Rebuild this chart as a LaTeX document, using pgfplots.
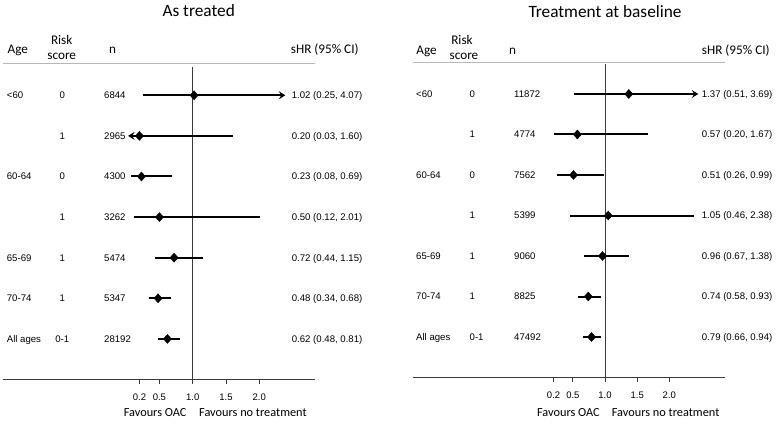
\documentclass[border=0pt]{standalone}
\usepackage{pgfplots}
\pgfplotsset{compat=1.18}
\usepackage{pgfplotstable}
\usetikzlibrary{arrows.meta}
\usepackage{fontspec}
\setmainfont{Liberation Sans}
\newfontfamily\calib{Carlito}
\definecolor{refline}{HTML}{3A3A3A}
\definecolor{hdrline}{HTML}{B8B8B8}

% row est lo hi  (row 7 = top)
\pgfplotstableread{
row est lo hi
7 1.02 0.25 4.07
6 0.20 0.03 1.60
5 0.23 0.08 0.69
4 0.50 0.12 2.01
3 0.72 0.44 1.15
2 0.48 0.34 0.68
1 0.62 0.48 0.81
}\treated
\pgfplotstableread{
row est lo hi
7 1.37 0.51 3.69
6 0.57 0.20 1.67
5 0.51 0.26 0.99
4 1.05 0.46 2.38
3 0.96 0.67 1.38
2 0.74 0.58 0.93
1 0.79 0.66 0.94
}\baseline

\pgfplotsset{forest/.style={
  anchor=south west, clip=false,
  axis x line=bottom, axis y line=none,
  axis line style={-, refline, line width=0.8bp},
  xtick={0.2,0.5,1,1.5,2},
  xticklabels={0.2,0.5,1.0,1.5,2.0},
  tick align=outside, major tick length=5bp,
  tick style={refline, line width=0.8bp},
  /pgf/number format/assume math mode=true,
  xticklabel style={font=\fontsize{9.5bp}{11bp}\selectfont, inner sep=0pt, anchor=north, yshift=-9.5bp},
  ci/.style={black, line width=2bp},
  dm/.style={only marks, mark=diamond*, mark size=4.5bp, mark options={xscale=1.2, fill=black, draw=black}},
}}
\tikzset{
  v/.style={font=\fontsize{9.6bp}{11bp}\selectfont, inner sep=0pt},
  h/.style={font=\calib\fontsize{13.2bp}{15bp}\selectfont, inner sep=0pt},
  t/.style={font=\calib\fontsize{17.3bp}{19bp}\selectfont, inner sep=0pt},
  f/.style={font=\calib\fontsize{12.3bp}{14bp}\selectfont, inner sep=0pt},
  arr/.style={-{Stealth[length=6.5bp,width=8bp,inset=2.5bp]}},
}

\begin{document}
\begin{tikzpicture}[x=1bp,y=1bp]
\useasboundingbox (0,0) rectangle (780,421);

% ---------------- Left panel: As treated ----------------
\begin{axis}[forest, at={(2.7bp,42bp)}, x=66.6bp, y=40.6bp,
  xmin=-1.853, xmax=2.836, ymin=0.012, ymax=7.788]
  \draw[hdrline, line width=0.9bp] (axis cs:-1.853,7.788) -- (axis cs:2.836,7.788);
  \addplot[refline, line width=0.9bp] coordinates {(1,0.012) (1,7.70)};
  \addplot[ci, arr] coordinates {(0.25,7) (2.39,7)};
  \addplot[ci, arr] coordinates {(1.60,6) (0.03,6)};
  \addplot[ci] coordinates {(0.08,5) (0.69,5)};
  \addplot[ci] coordinates {(0.12,4) (2.01,4)};
  \addplot[ci] coordinates {(0.44,3) (1.15,3)};
  \addplot[ci] coordinates {(0.34,2) (0.68,2)};
  \addplot[ci] coordinates {(0.48,1) (0.81,1)};
  \addplot[dm] table[x=est, y=row] {\treated};
\end{axis}

% ---------------- Right panel: Treatment at baseline ----------------
\begin{axis}[forest, at={(412.7bp,43.7bp)}, x=64.3bp, y=40.5bp,
  xmin=-1.991, xmax=2.866, ymin=0.005, ymax=7.783]
  \draw[hdrline, line width=0.9bp] (axis cs:-1.991,7.783) -- (axis cs:2.866,7.783);
  \addplot[refline, line width=0.9bp] coordinates {(1,0.005) (1,7.74)};
  \addplot[ci, arr] coordinates {(0.51,7) (2.45,7)};
  \addplot[ci] coordinates {(0.20,6) (1.67,6)};
  \addplot[ci] coordinates {(0.26,5) (0.99,5)};
  \addplot[ci] coordinates {(0.46,4) (2.38,4)};
  \addplot[ci] coordinates {(0.67,3) (1.38,3)};
  \addplot[ci] coordinates {(0.58,2) (0.93,2)};
  \addplot[ci] coordinates {(0.66,1) (0.94,1)};
  \addplot[dm] table[x=est, y=row] {\baseline};
\end{axis}

% ---------------- Titles ----------------
\node[t, anchor=base] at (198.7,404.3) {As treated};
\node[t, anchor=base] at (605,403.7) {Treatment at baseline};

% ---------------- Headers ----------------
\node[h, anchor=base west] at (7.5,367.7) {Age};
\node[h, anchor=base] at (61.7,377) {Risk};
\node[h, anchor=base] at (61.7,361.7) {score};
\node[h, anchor=base] at (112.5,367.7) {n};
\node[h, anchor=base west] at (290.7,367.7) {sHR (95\% CI)};

\node[h, anchor=base west] at (416.2,367) {Age};
\node[h, anchor=base] at (462,377) {Risk};
\node[h, anchor=base] at (464,361.7) {score};
\node[h, anchor=base] at (512.5,367) {n};
\node[h, anchor=base west] at (701.7,367) {sHR (95\% CI)};

% ---------------- Left rows ----------------
\foreach \yb/\age/\rs/\n/\hr in {
  322.25/{<60}/0/6844/{1.02 (0.25, 4.07)},
  281.65/{}/1/2965/{0.20 (0.03, 1.60)},
  241.05/{60-64}/0/4300/{0.23 (0.08, 0.69)},
  200.45/{}/1/3262/{0.50 (0.12, 2.01)},
  159.85/{65-69}/1/5474/{0.72 (0.44, 1.15)},
  119.25/{70-74}/1/5347/{0.48 (0.34, 0.68)},
  78.65/{All ages}/{0-1}/28192/{0.62 (0.48, 0.81)}}{
  \node[v, anchor=base west] at (6.7,\yb) {\age};
  \node[v, anchor=base] at (62.3,\yb) {\rs};
  \node[v, anchor=base west] at (104,\yb) {\n};
  \node[v, anchor=base west] at (291.7,\yb) {\hr};
}

% ---------------- Right rows ----------------
\foreach \yb/\age/\rs/\n/\hr in {
  323.55/{<60}/0/11872/{1.37 (0.51, 3.69)},
  283.05/{}/1/4774/{0.57 (0.20, 1.67)},
  242.55/{60-64}/0/7562/{0.51 (0.26, 0.99)},
  202.05/{}/1/5399/{1.05 (0.46, 2.38)},
  161.55/{65-69}/1/9060/{0.96 (0.67, 1.38)},
  121.05/{70-74}/1/8825/{0.74 (0.58, 0.93)},
  80.55/{All ages}/{0-1}/47492/{0.79 (0.66, 0.94)}}{
  \node[v, anchor=base west] at (416,\yb) {\age};
  \node[v, anchor=base west] at (469.5,\yb) {\rs};
  \node[v, anchor=base west] at (514,\yb) {\n};
  \node[v, anchor=base west] at (701.7,\yb) {\hr};
}

% ---------------- Favours labels ----------------
\node[f, anchor=base east] at (186.7,5) {Favours OAC};
\node[f, anchor=base west] at (199,5) {Favours no treatment};
\node[f, anchor=base east] at (600,5) {Favours OAC};
\node[f, anchor=base west] at (611.7,5) {Favours no treatment};
\end{tikzpicture}
\end{document}
